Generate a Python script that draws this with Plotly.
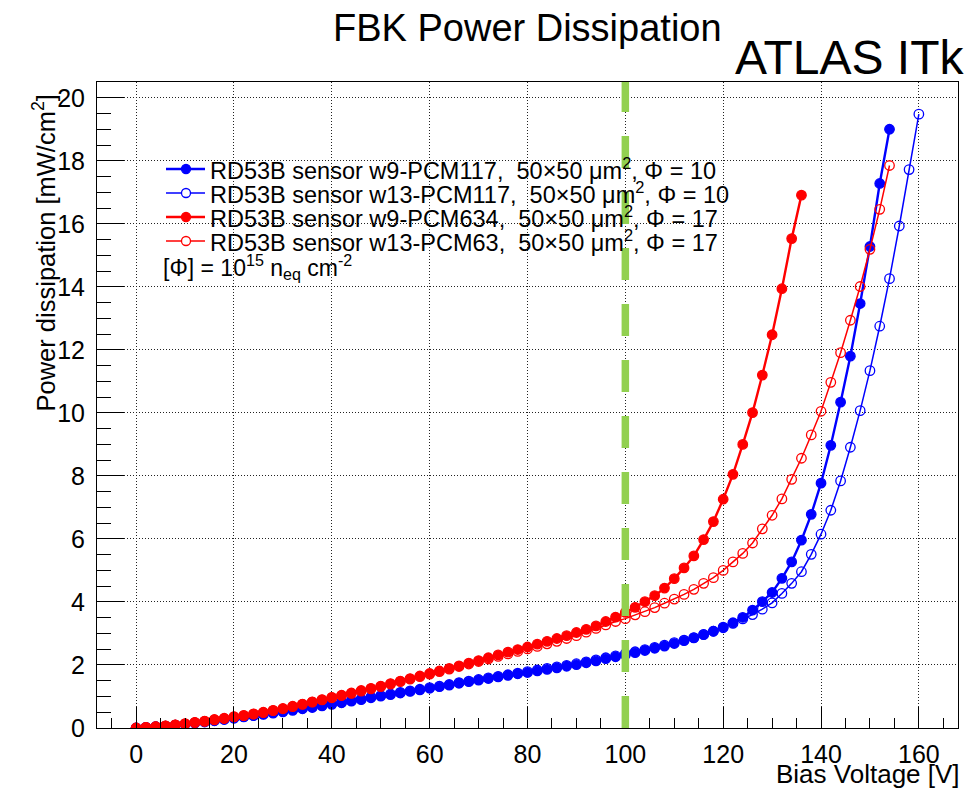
import plotly.graph_objects as go

# ---------------- data ----------------
v_b9 = list(range(0, 155, 2))     # w9-PCM117
p_b9 = [0.00,0.02,0.04,0.06,0.09,0.12,0.16,0.19,0.23,0.27,
        0.31,0.35,0.39,0.43,0.47,0.51,0.56,0.61,0.65,0.70,
        0.75,0.80,0.85,0.90,0.96,1.01,1.06,1.11,1.16,1.21,
        1.26,1.31,1.36,1.42,1.47,1.52,1.57,1.62,1.67,1.72,
        1.76,1.81,1.86,1.91,1.96,2.01,2.07,2.13,2.20,2.26,
        2.32,2.39,2.46,2.53,2.60,2.68,2.77,2.86,2.96,3.07,
        3.20,3.34,3.51,3.74,4.01,4.30,4.75,5.27,5.96,6.78,
        7.77,8.97,10.34,11.80,13.47,15.28,17.28,19.00]

v_b13 = list(range(0, 161, 2))    # w13-PCM117
p_b13 = [0.00,0.02,0.04,0.06,0.09,0.12,0.16,0.20,0.24,0.28,
         0.32,0.36,0.40,0.45,0.49,0.53,0.58,0.63,0.67,0.72,
         0.77,0.82,0.87,0.92,0.98,1.03,1.08,1.13,1.18,1.23,
         1.28,1.33,1.38,1.44,1.49,1.54,1.59,1.64,1.69,1.74,
         1.79,1.84,1.89,1.94,1.99,2.04,2.10,2.16,2.23,2.29,
         2.36,2.42,2.49,2.56,2.63,2.71,2.79,2.87,2.97,3.07,
         3.18,3.32,3.46,3.60,3.77,3.97,4.27,4.59,4.96,5.51,
         6.15,6.91,7.84,8.91,10.07,11.34,12.75,14.26,15.93,17.72,
         19.48]

v_r9 = list(range(0, 137, 2))     # w9-PCM634
p_r9 = [0.00,0.02,0.04,0.07,0.10,0.14,0.18,0.22,0.27,0.31,
        0.36,0.40,0.45,0.50,0.56,0.62,0.69,0.76,0.83,0.90,
        0.97,1.04,1.11,1.19,1.26,1.33,1.41,1.49,1.57,1.65,
        1.73,1.81,1.89,1.97,2.06,2.14,2.23,2.32,2.41,2.49,
        2.57,2.66,2.75,2.84,2.93,3.03,3.13,3.24,3.38,3.52,
        3.67,3.83,4.01,4.20,4.44,4.74,5.08,5.46,5.98,6.55,
        7.26,8.05,9.00,10.01,11.20,12.48,13.94,15.53,16.91]

v_r13 = list(range(0, 155, 2))    # w13-PCM63
p_r13 = [0.00,0.02,0.04,0.07,0.10,0.13,0.17,0.21,0.26,0.30,
         0.35,0.39,0.44,0.49,0.55,0.61,0.68,0.75,0.82,0.89,
         0.96,1.03,1.10,1.17,1.24,1.31,1.39,1.47,1.55,1.63,
         1.71,1.79,1.87,1.95,2.03,2.11,2.19,2.27,2.35,2.43,
         2.51,2.59,2.67,2.75,2.84,2.93,3.04,3.16,3.27,3.38,
         3.47,3.59,3.69,3.82,3.96,4.09,4.24,4.40,4.59,4.77,
         5.00,5.27,5.54,5.87,6.32,6.75,7.27,7.89,8.56,9.30,
         10.05,10.97,11.91,12.94,14.01,15.19,16.46,17.85]

names = ["RD53B sensor w9-PCM117,\u00a0 50×50 μm<sup>2</sup>, Φ = 10",
         "RD53B sensor w13-PCM117,\u00a0 50×50 μm<sup>2</sup>, Φ = 10",
         "RD53B sensor w9-PCM634,\u00a0 50×50 μm<sup>2</sup>, Φ = 17",
         "RD53B sensor w13-PCM63,\u00a0 50×50 μm<sup>2</sup>, Φ = 17"]

ref_voltage = 100

# ---------------- figure ----------------
W, H = 980, 788
L, R, T, B = 97, 958, 82, 728
FONT = "Liberation Sans, Arial, Helvetica, sans-serif"

def px(x):
    return (x - L) / (R - L)

def py(y):
    return (B - y) / (B - T)

fig = go.Figure()

series = [
    (v_b9, p_b9, "#0000ff", True, names[0]),
    (v_b13, p_b13, "#0000ff", False, names[1]),
    (v_r9, p_r9, "#ff0000", True, names[2]),
    (v_r13, p_r13, "#ff0000", False, names[3]),
]
for xs, ys, col, filled, nm in series:
    fig.add_trace(go.Scatter(
        x=xs, y=ys, mode="lines+markers", name=nm, showlegend=False,
        line=dict(color=col, width=2.4 if filled else 1.5),
        marker=dict(symbol="circle" if filled else "circle-open",
                    size=9.5,
                    color=col, line=dict(color=col, width=1.3)),
    ))

# green dashed reference line
fig.add_shape(type="line", xref="x", yref="y", x0=ref_voltage, x1=ref_voltage,
              y0=0, y1=20.5, line=dict(color="#92d050", width=7.5, dash="32px,24px"),
              layer="above")

# manual legend
rows_y = [169, 193, 217, 241]
for (xs, ys, col, filled, nm), yy in zip(series, rows_y):
    fig.add_shape(type="line", xref="paper", yref="paper",
                  x0=px(166), x1=px(205), y0=py(yy), y1=py(yy),
                  line=dict(color=col, width=2.4 if filled else 1.5))
    fig.add_shape(type="circle", xref="paper", yref="paper",
                  xsizemode="pixel", ysizemode="pixel",
                  xanchor=px(186), yanchor=py(yy),
                  x0=-4.5, x1=4.5, y0=-4.5, y1=4.5,
                  fillcolor=col if filled else "white",
                  line=dict(color=col, width=1.3))
    fig.add_annotation(x=px(208), y=py(yy), xref="paper", yref="paper",
                       xanchor="left", yanchor="middle", text=nm, showarrow=False,
                       font=dict(family=FONT, size=23.5, color="black"))

fig.add_annotation(x=px(161), y=py(267), xref="paper", yref="paper",
                   xanchor="left", yanchor="middle",
                   text="[Φ] = 10<sup>15</sup> n<sub>eq</sub> cm<sup>-2</sup>",
                   showarrow=False, font=dict(family=FONT, size=23, color="black"))

# titles
fig.add_annotation(x=0.5, y=py(28), xref="paper", yref="paper", xanchor="center",
                   yanchor="middle", text="FBK Power Dissipation", showarrow=False,
                   font=dict(family=FONT, size=38, color="black"))
fig.add_annotation(x=px(966), y=py(57), xref="paper", yref="paper", xanchor="right",
                   yanchor="middle", text="ATLAS ITk", showarrow=False,
                   font=dict(family=FONT, size=48, color="black"))
fig.add_annotation(x=px(962), y=py(774), xref="paper", yref="paper", xanchor="right",
                   yanchor="middle", text="Bias Voltage [V]", showarrow=False,
                   font=dict(family=FONT, size=26, color="black"))
fig.add_annotation(x=px(44), y=py(93), xref="paper", yref="paper", xanchor="center",
                   yanchor="top", textangle=-90, text="Power dissipation [mW/cm<sup>2</sup>]",
                   showarrow=False, font=dict(family=FONT, size=25.5, color="black"))

axis_common = dict(
    showline=True, mirror=True, linecolor="black", linewidth=1,
    ticks="inside", tickcolor="black", tickwidth=1,
    showgrid=True, gridcolor="#222222", gridwidth=1, griddash="1px,2px",
    zeroline=False, tickfont=dict(family=FONT, size=25, color="black"),
)

fig.update_xaxes(range=[-8, 168], tick0=0, dtick=20, ticklen=21,
                 minor=dict(dtick=5, tick0=0, ticklen=10, ticks="inside",
                            tickcolor="black", showgrid=False),
                 ticklabelstandoff=4, **axis_common)
fig.update_yaxes(range=[0, 20.5], tick0=0, dtick=2, ticklen=27,
                 minor=dict(dtick=0.5, tick0=0, ticklen=14, ticks="inside",
                            tickcolor="black", showgrid=False),
                 ticklabelstandoff=6, **axis_common)

fig.update_layout(
    width=W, height=H,
    margin=dict(l=L, r=W - R, t=T, b=H - B),
    paper_bgcolor="white", plot_bgcolor="white",
    showlegend=False,
    font=dict(family=FONT, color="black"),
)

fig.write_html("out.html", config={"displayModeBar": False},
               post_script="document.body.style.margin='0';document.body.style.padding='0';")
